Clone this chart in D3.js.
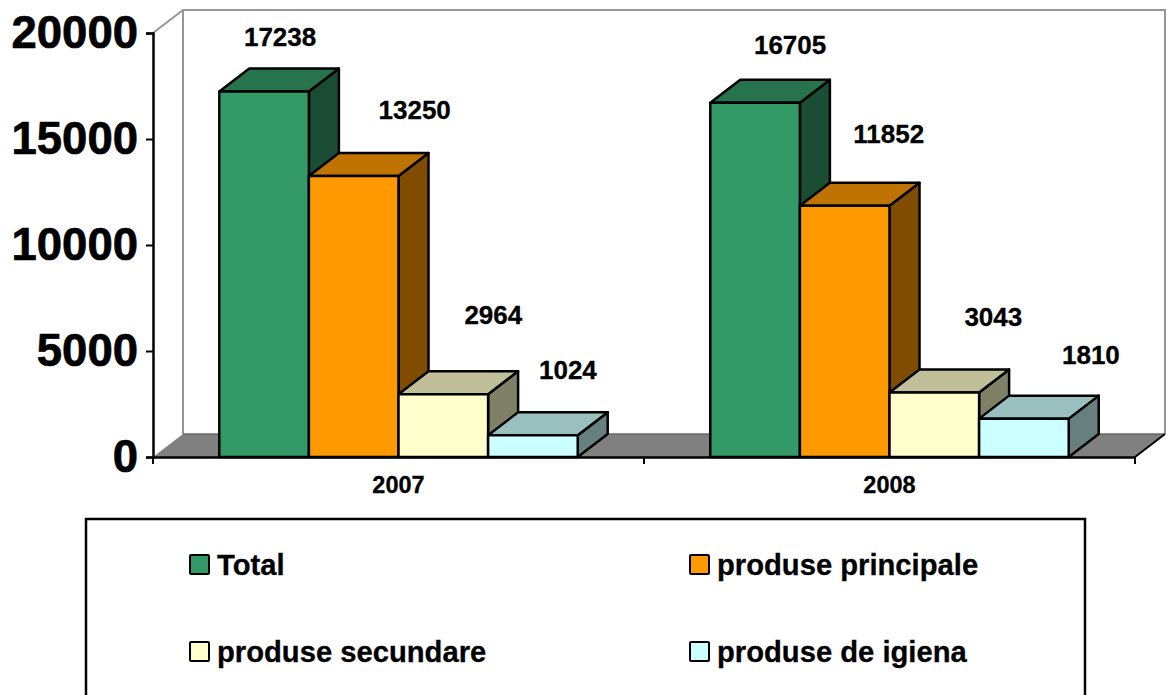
<!DOCTYPE html>
<html>
<head>
<meta charset="utf-8">
<script src="https://cdn.jsdelivr.net/npm/d3@7"></script>
<style>
  html, body { margin: 0; padding: 0; background: #fff; overflow: hidden; }
  svg { display: block; }
  text { font-family: "Liberation Sans", Arial, sans-serif; font-weight: bold; fill: #000; }
</style>
</head>
<body>
<svg width="1169" height="695"></svg>
<script>
const years = ["2007", "2008"];
const series = ["Total", "produse principale", "produse secundare", "produse de igiena"];
const values2007 = [17238, 13250, 2964, 1024];
const values2008 = [16705, 11852, 3043, 1810];
const colors = ["#339966", "#ff9900", "#ffffcc", "#ccffff"];
const yTicks = [0, 5000, 10000, 15000, 20000];

const svg = d3.select("svg");

// plot frame, the 3d depth is a fixed shift of the front plane
const left = 153, right = 1135, top_y = 33, bottom = 457;
const depth_x = 30, depth_y = -23;

const x = d3.scaleBand().domain(years).range([left, right]).paddingInner(0.27).paddingOuter(0.135);
const x_inner = d3.scaleBand().domain(series).range([0, x.bandwidth()]);
const y = d3.scaleLinear().domain([0, 20000]).range([bottom, top_y]);

function shade(color, k) {
  let c = d3.rgb(color);
  return d3.rgb(c.r * k, c.g * k, c.b * k).formatHex();
}

function poly(points) {
  return d3.line()(points) + "Z";
}

// back wall and floor
svg.append("path")
  .attr("d", d3.line()([
    [left, y(20000)],
    [left + depth_x, y(20000) + depth_y],
    [right + depth_x, y(20000) + depth_y],
    [right + depth_x, bottom + depth_y],
  ]))
  .attr("fill", "none").attr("stroke", "#969696").attr("stroke-width", 2);
svg.append("line")
  .attr("x1", left + depth_x).attr("x2", left + depth_x)
  .attr("y1", y(20000) + depth_y).attr("y2", bottom + depth_y)
  .attr("stroke", "#969696").attr("stroke-width", 2);
svg.append("path")
  .attr("d", poly([
    [left, bottom],
    [left + depth_x, bottom + depth_y],
    [right + depth_x, bottom + depth_y],
    [right, bottom],
  ]))
  .attr("fill", "#808080");
svg.append("line")
  .attr("x1", left + depth_x).attr("x2", right + depth_x)
  .attr("y1", bottom + depth_y).attr("y2", bottom + depth_y)
  .attr("stroke", "#6a6a6a").attr("stroke-width", 1.5);
svg.append("line")
  .attr("x1", right).attr("x2", right + depth_x)
  .attr("y1", bottom).attr("y2", bottom + depth_y)
  .attr("stroke", "#000").attr("stroke-width", 2);

// bars
const rows = [];
years.forEach((year, i) => {
  let vals = i === 0 ? values2007 : values2008;
  series.forEach((name, j) => rows.push({ year, name, value: vals[j], color: colors[j] }));
});

const bar = svg.append("g").selectAll("g").data(rows).enter().append("g")
  .attr("stroke", "#000").attr("stroke-width", 2.5).attr("stroke-linejoin", "round");

bar.append("path")
  .attr("fill", d => shade(d.color, 0.5))
  .attr("d", d => {
    let x1 = x(d.year) + x_inner(d.name) + x_inner.bandwidth();
    return poly([[x1, y(d.value)], [x1 + depth_x, y(d.value) + depth_y], [x1 + depth_x, bottom + depth_y], [x1, bottom]]);
  });
bar.append("path")
  .attr("fill", d => shade(d.color, 0.75))
  .attr("d", d => {
    let x0 = x(d.year) + x_inner(d.name), x1 = x0 + x_inner.bandwidth();
    return poly([[x0, y(d.value)], [x0 + depth_x, y(d.value) + depth_y], [x1 + depth_x, y(d.value) + depth_y], [x1, y(d.value)]]);
  });
bar.append("rect")
  .attr("x", d => x(d.year) + x_inner(d.name))
  .attr("y", d => y(d.value))
  .attr("width", x_inner.bandwidth())
  .attr("height", d => bottom - y(d.value))
  .attr("fill", d => d.color);

// axes
const y_axis = svg.append("g").attr("transform", `translate(${left},0)`)
  .call(d3.axisLeft(y).tickValues(yTicks).tickFormat(d3.format("d")).tickSize(7).tickPadding(8));
y_axis.selectAll("text").attr("font-size", 45.5).attr("stroke", "#000").attr("stroke-width", 0.7);
y_axis.selectAll("line").attr("stroke", "#000").attr("stroke-width", 2);

const x_axis = svg.append("g").attr("transform", `translate(0,${bottom})`)
  .call(d3.axisBottom(x).tickSize(0).tickPadding(19));
x_axis.selectAll("text").attr("font-size", 23.5).attr("stroke", "#000").attr("stroke-width", 0.3);
[left, (left + right) / 2, right].forEach(t => {
  x_axis.append("line").attr("x1", t).attr("x2", t).attr("y1", 0).attr("y2", 7).attr("stroke", "#000").attr("stroke-width", 2);
});
svg.selectAll(".domain").attr("stroke", "#000").attr("stroke-width", 2.5);

// the value labels were hand placed in the source, offsets from bar front top centre
const label_dx = [16, 61, 50, 35, 35, 44, 59, 67];
const label_dy = [-55, -66, -79, -65, -58, -72, -76, -64];
svg.append("g").selectAll("text").data(rows).enter().append("text")
  .attr("x", (d, i) => x(d.year) + x_inner(d.name) + x_inner.bandwidth() / 2 + label_dx[i])
  .attr("y", (d, i) => y(d.value) + label_dy[i])
  .attr("dy", "0.35em").attr("text-anchor", "middle").attr("font-size", 26)
  .attr("stroke", "#000").attr("stroke-width", 0.3)
  .text(d => d.value);

// legend, its box runs off the bottom of the picture
svg.append("rect")
  .attr("x", 86).attr("y", 519).attr("width", 999).attr("height", 190)
  .attr("fill", "#fff").attr("stroke", "#000").attr("stroke-width", 2.5);
const leg_x = d3.scaleOrdinal().domain([0, 1]).range([190, 690]);
const leg_y = d3.scaleOrdinal().domain([0, 1]).range([555, 642]);
const leg = svg.append("g").selectAll("g").data(series).enter().append("g")
  .attr("transform", (d, i) => `translate(${leg_x(i % 2)},${leg_y(Math.floor(i / 2))})`);
leg.append("rect")
  .attr("width", 19).attr("height", 19).attr("rx", 1)
  .attr("fill", (d, i) => colors[i]).attr("stroke", "#000").attr("stroke-width", 2);
leg.append("text")
  .attr("x", 27).attr("y", 9.5).attr("dy", "0.35em").attr("font-size", 29.2)
  .attr("stroke", "#000").attr("stroke-width", 0.3)
  .text(d => d);
</script>
</body>
</html>
